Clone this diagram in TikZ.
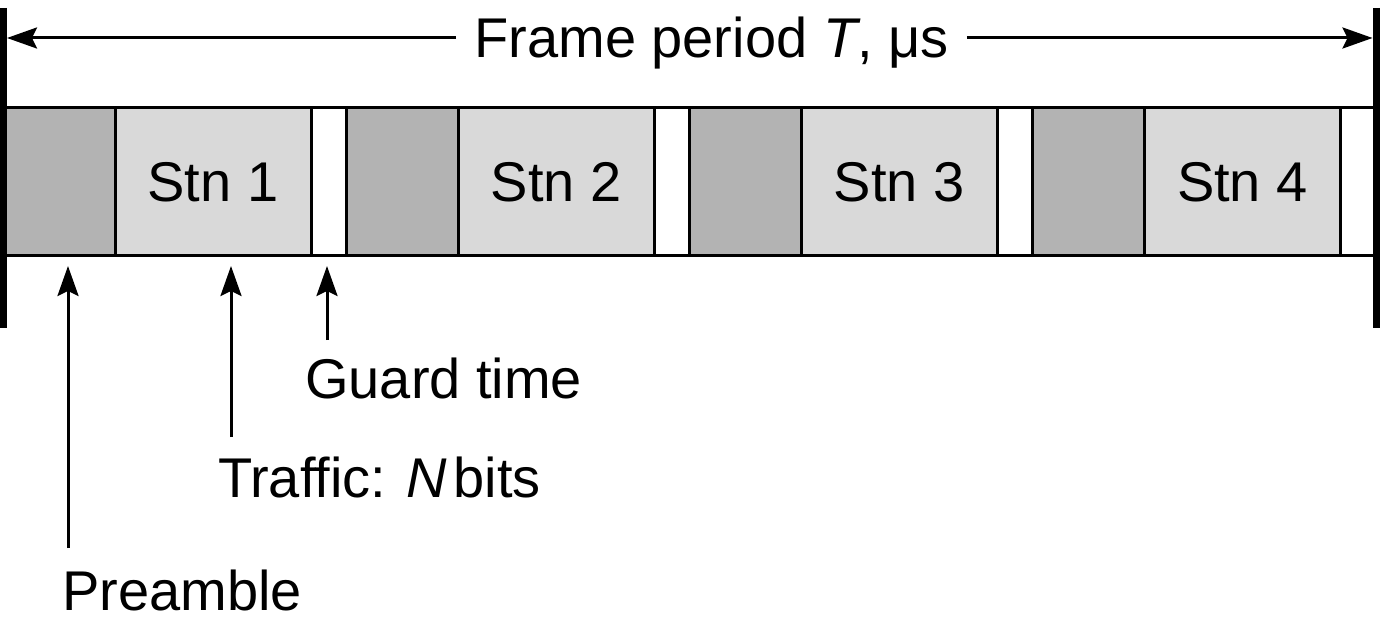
\documentclass[tikz,border=0pt]{standalone}
\usepackage{fontspec}
\setmainfont{Liberation Sans}
\usetikzlibrary{arrows.meta}
\definecolor{preGray}{HTML}{B3B3B3}
\definecolor{trafGray}{HTML}{D9D9D9}
\begin{document}
\begin{tikzpicture}[x=1pt,y=-1pt,
  lbl/.style={font=\fontsize{56}{60}\selectfont, inner sep=0pt},
  slot/.style={draw=black, line width=3pt, minimum height=148pt,
    inner sep=0pt, outer sep=0pt, anchor=north west,
    font=\fontsize{56}{60}\selectfont},
  prebox/.style={slot, fill=preGray},
  trafbox/.style={slot, fill=trafGray},
  guardbox/.style={slot, fill=white},
  arr/.style={line width=3pt, -{Stealth[length=30pt,width=21pt,inset=5pt]}},
  bar/.style={line width=7pt}]
\useasboundingbox (0,0) rectangle (1383,620);

% four station slots: preamble, traffic, guard time
\foreach \k in {0,1,2,3}{
  \pgfmathsetmacro\xs{3.5+\k*343.125}
  \pgfmathtruncatemacro\n{\k+1}
  \node[prebox, minimum width=111.5pt] (p\n) at (\xs,108) {};
  \node[trafbox, minimum width=196pt] (t\n) at ({\xs+111.5},108) {Stn \n};
  \node[guardbox, minimum width=35.6pt] (g\n) at ({\xs+307.5},108) {};
}

% frame boundary bars
\draw[bar] (3.5,8) -- (3.5,328);
\draw[bar] (1376,8) -- (1376,328);

% frame period dimension
\coordinate (lt) at (7,38);
\coordinate (rt) at (1372.5,38);
\node[lbl, inner xsep=18pt, anchor=base] (title) at (711.5,58)
  {Frame period \textit{T}, μs};
\draw[arr] (title.west |- lt) -- (lt);
\draw[arr] (title.east |- rt) -- (rt);

% callout labels
\node[lbl, anchor=base west] (guardL) at (305,398) {Guard time};
\node[lbl, anchor=base west] (trafL) at (218,497) {Traffic: \textit{N}\hspace{6pt}bits};
\node[lbl, anchor=base west] (preL) at (62,610) {Preamble};

\coordinate (guardTip) at (327,266);
\coordinate (guardTail) at (327,340);
\coordinate (trafTip) at (231,266);
\coordinate (trafTail) at (231,437);
\coordinate (preTip) at (68,266);
\coordinate (preTail) at (68,548);
\draw[arr] (guardTail) -- (guardTip);
\draw[arr] (trafTail) -- (trafTip);
\draw[arr] (preTail) -- (preTip);
\end{tikzpicture}
\end{document}
